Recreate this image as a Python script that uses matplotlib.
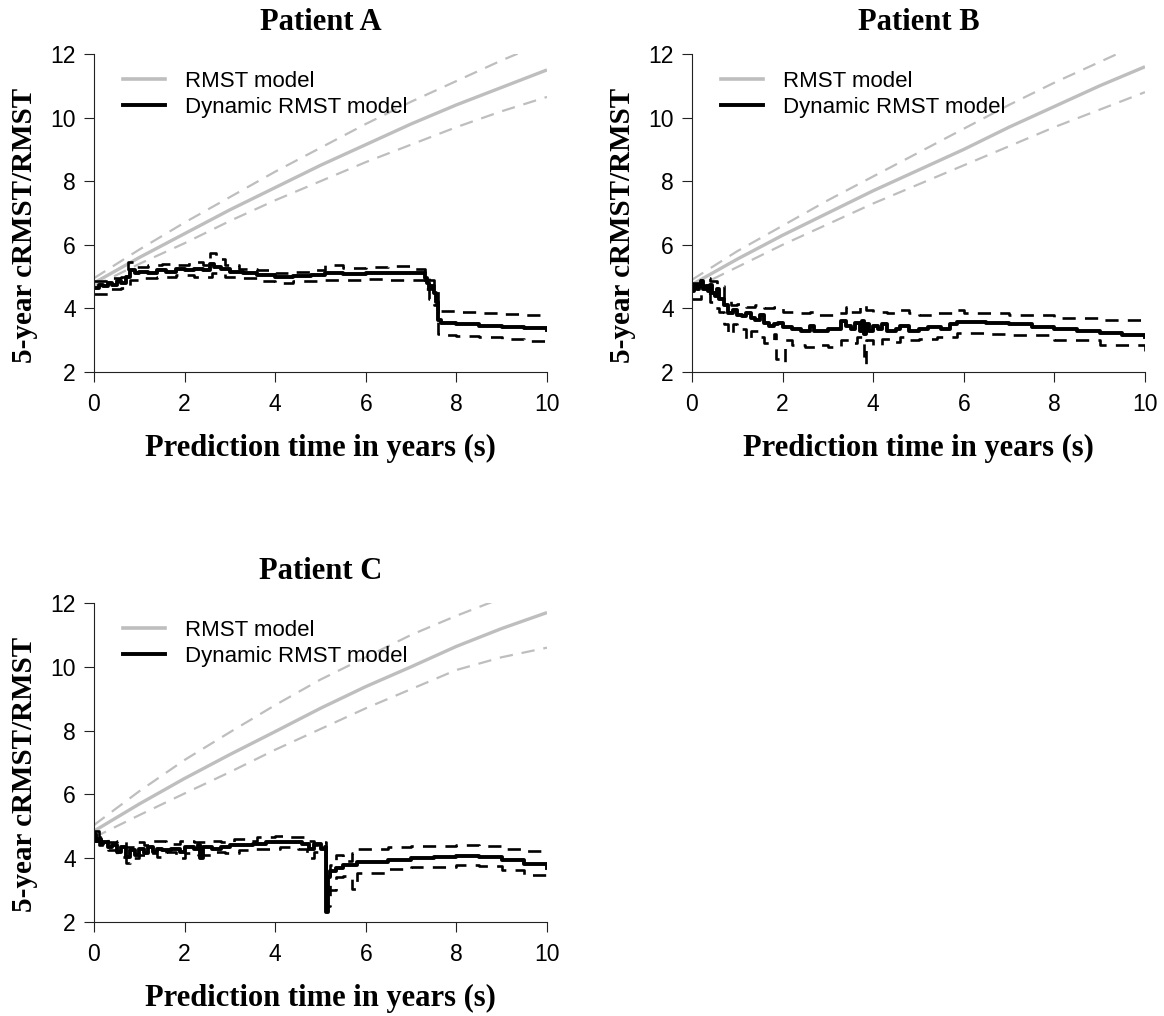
import matplotlib
matplotlib.use("Agg")
import matplotlib.pyplot as plt
from matplotlib.lines import Line2D

# ---------------- data ----------------
# RMST model (smooth), read at integer years
rmst_t = [0, 1, 2, 3, 4, 5, 6, 7, 8, 9, 10]
A_rmst = [4.8, 5.6, 6.35, 7.1, 7.8, 8.5, 9.15, 9.8, 10.4, 10.95, 11.5]
A_rmst_up = [4.95, 5.85, 6.7, 7.5, 8.3, 9.05, 9.8, 10.5, 11.15, 11.8, 12.4]
A_rmst_lo = [4.7, 5.4, 6.05, 6.75, 7.4, 8.0, 8.6, 9.15, 9.7, 10.2, 10.65]
B_rmst = [4.75, 5.55, 6.3, 7.0, 7.7, 8.35, 9.0, 9.7, 10.35, 11.0, 11.6]
B_rmst_up = [4.9, 5.8, 6.6, 7.4, 8.15, 8.9, 9.65, 10.4, 11.1, 11.75, 12.4]
B_rmst_lo = [4.6, 5.3, 6.0, 6.65, 7.3, 7.9, 8.5, 9.1, 9.7, 10.25, 10.8]
C_rmst = [4.85, 5.7, 6.5, 7.25, 7.97, 8.7, 9.38, 10.0, 10.64, 11.2, 11.7]
C_rmst_up = [5.04, 6.1, 7.08, 7.95, 8.8, 9.6, 10.3, 11.0, 11.6, 12.15, 12.6]
C_rmst_lo = [4.65, 5.35, 6.03, 6.7, 7.4, 8.05, 8.7, 9.3, 9.9, 10.3, 10.6]

# Dynamic RMST model (step functions)
A_t = [0, 0.1, 0.2, 0.3, 0.4, 0.5, 0.6, 0.7, 0.8, 0.9, 1.0, 1.2, 1.4, 1.6, 1.8, 2.0,
       2.2, 2.4, 2.55, 2.65, 2.8, 3.0, 3.3, 3.6, 4.0, 4.4, 4.8, 5.1, 5.5, 6.0, 6.5,
       7.0, 7.3, 7.35, 7.4, 7.45, 7.5, 7.55, 7.6, 7.65, 8.0, 8.5, 9.0, 9.5, 10.0]
A_dyn = [4.65, 4.75, 4.7, 4.8, 4.75, 4.85, 4.8, 5.0, 5.2, 5.1, 5.15, 5.1, 5.2, 5.15, 5.25, 5.2,
         5.25, 5.2, 5.4, 5.3, 5.25, 5.15, 5.1, 5.05, 5.0, 5.02, 5.05, 5.1, 5.08, 5.1, 5.12,
         5.1, 4.95, 4.8, 4.6, 4.7, 4.5, 4.2, 3.65, 3.53, 3.5, 3.46, 3.42, 3.37, 3.32]
A_up_t = [0, 0.3, 0.6, 0.75, 0.9, 1.2, 1.5, 1.8, 2.1, 2.4, 2.55, 2.7, 2.9, 3.2, 3.6, 4.0,
          4.4, 4.8, 5.1, 5.5, 6.0, 6.5, 7.0, 7.3, 7.4, 7.5, 7.6, 7.65, 8.0, 8.5, 9.0, 9.5, 10.0]
A_up = [4.85, 4.95, 5.0, 5.45, 5.3, 5.35, 5.4, 5.35, 5.45, 5.35, 5.75, 5.55, 5.35, 5.25, 5.2, 5.1,
        5.15, 5.2, 5.35, 5.28, 5.3, 5.32, 5.25, 5.1, 4.9, 4.7, 4.0, 3.92, 3.88, 3.85, 3.81, 3.78, 3.74]
A_lo_t = [0, 0.3, 0.6, 0.8, 1.0, 1.4, 1.8, 2.2, 2.6, 2.9, 3.3, 3.6, 4.0, 4.4, 4.8, 5.1,
          5.5, 6.0, 6.5, 7.0, 7.3, 7.4, 7.5, 7.6, 7.65, 8.0, 8.5, 9.0, 9.5, 10.0]
A_lo = [4.45, 4.6, 4.65, 4.9, 4.95, 5.0, 5.05, 5.0, 5.1, 5.0, 4.95, 4.85, 4.8, 4.85, 4.85, 4.9,
        4.9, 4.92, 4.9, 4.88, 4.6, 4.3, 4.1, 3.2, 3.15, 3.12, 3.1, 3.05, 2.98, 2.9]

B_t = [0, 0.05, 0.1, 0.15, 0.2, 0.25, 0.3, 0.35, 0.4, 0.45, 0.5, 0.55, 0.6, 0.7, 0.8, 0.9,
       1.0, 1.1, 1.2, 1.3, 1.4, 1.5, 1.6, 1.7, 1.8, 1.9, 2.0, 2.2, 2.4, 2.6, 2.7, 3.0,
       3.3, 3.4, 3.5, 3.6, 3.7, 3.75, 3.8, 3.85, 3.9, 4.0, 4.1, 4.2, 4.3, 4.5, 4.6, 4.8,
       5.0, 5.2, 5.5, 5.7, 5.85, 6.5, 7.0, 7.5, 8.0, 8.5, 9.0, 9.5, 10.0]
B_dyn = [4.55, 4.75, 4.6, 4.7, 4.85, 4.6, 4.7, 4.55, 4.75, 4.5, 4.4, 4.6, 4.3, 4.1, 3.85, 3.95,
         3.8, 3.75, 3.85, 3.7, 3.65, 3.8, 3.55, 3.45, 3.5, 3.55, 3.4, 3.35, 3.3, 3.45, 3.3, 3.35,
         3.6, 3.45, 3.35, 3.55, 3.3, 3.6, 3.2, 3.5, 3.3, 3.45, 3.35, 3.5, 3.3, 3.35, 3.45, 3.3,
         3.35, 3.4, 3.35, 3.5, 3.58, 3.55, 3.5, 3.43, 3.36, 3.28, 3.22, 3.16, 3.1]
B_up_t = [0, 0.2, 0.4, 0.55, 0.7, 0.85, 1.0, 1.2, 1.4, 1.6, 1.8, 2.0, 2.3, 2.6, 2.8, 3.2,
          3.4, 3.5, 3.7, 3.85, 4.0, 4.3, 4.5, 4.8, 5.0, 5.4, 5.85, 6.0, 7.0, 8.0, 9.0, 10.0]
B_up = [4.8, 4.95, 4.85, 4.7, 4.3, 4.1, 4.15, 4.05, 4.1, 4.0, 4.05, 3.9, 3.85, 3.9, 3.8, 3.85,
        4.05, 3.9, 4.1, 3.95, 3.9, 3.85, 3.95, 3.85, 3.8, 3.85, 3.95, 3.85, 3.8, 3.7, 3.62, 3.52]
B_lo_t = [0, 0.2, 0.4, 0.5, 0.6, 0.7, 0.8, 0.9, 1.0, 1.2, 1.3, 1.5, 1.6, 1.8, 1.85, 1.95,
          2.05, 2.2, 2.5, 2.8, 3.0, 3.3, 3.5, 3.65, 3.8, 3.85, 4.0, 4.2, 4.4, 4.6, 4.8, 5.0,
          5.4, 5.85, 6.5, 7.0, 8.0, 9.0, 10.0]
B_lo = [4.3, 4.5, 4.2, 4.0, 3.9, 3.5, 3.2, 3.5, 3.35, 3.0, 3.3, 3.1, 2.9, 3.2, 2.4, 2.3,
        3.0, 2.85, 2.8, 2.85, 2.8, 3.0, 2.9, 3.1, 2.25, 3.0, 2.85, 3.05, 2.95, 3.1, 3.0, 3.05,
        3.1, 3.22, 3.2, 3.15, 3.0, 2.85, 2.67]

C_t = [0, 0.05, 0.1, 0.15, 0.2, 0.3, 0.4, 0.5, 0.6, 0.7, 0.8, 0.9, 1.0, 1.1, 1.2, 1.3,
       1.4, 1.5, 1.7, 1.9, 2.0, 2.2, 2.3, 2.35, 2.4, 2.6, 2.8, 3.0, 3.2, 3.5, 3.8, 4.2,
       4.6, 4.75, 4.85, 5.0, 5.1, 5.12, 5.16, 5.2, 5.35, 5.5, 5.8, 6.5, 7.0, 7.5, 8.0,
       8.5, 9.0, 9.5, 10.0]
C_dyn = [4.75, 4.55, 4.6, 4.45, 4.5, 4.35, 4.4, 4.2, 4.35, 4.05, 4.25, 4.1, 4.3, 4.15, 4.35, 4.2,
         4.3, 4.25, 4.3, 4.2, 4.35, 4.3, 4.4, 4.0, 4.35, 4.3, 4.35, 4.4, 4.42, 4.45, 4.5, 4.5,
         4.45, 4.3, 4.45, 4.3, 4.35, 2.3, 3.4, 3.6, 3.7, 3.8, 3.88, 3.95, 4.0, 4.05, 4.08,
         4.05, 3.95, 3.82, 3.68]
C_up_t = [0, 0.1, 0.3, 0.5, 0.7, 0.9, 1.1, 1.3, 1.6, 1.9, 2.2, 2.5, 2.8, 3.1, 3.4, 3.6,
          4.0, 4.3, 4.7, 4.85, 5.0, 5.12, 5.2, 5.35, 5.5, 5.7, 5.8, 6.5, 7.0, 8.0, 8.5,
          9.0, 9.5, 10.0]
C_up = [4.85, 4.65, 4.5, 4.55, 4.35, 4.5, 4.4, 4.55, 4.45, 4.55, 4.5, 4.55, 4.5, 4.6, 4.55, 4.65,
        4.7, 4.65, 4.55, 4.4, 4.5, 3.0, 3.8, 4.1, 3.9, 4.15, 4.28, 4.35, 4.38, 4.41, 4.38,
        4.3, 4.22, 4.13]
C_lo_t = [0, 0.1, 0.3, 0.5, 0.7, 0.8, 1.0, 1.2, 1.4, 1.6, 1.8, 2.0, 2.3, 2.6, 2.9, 3.2,
          3.5, 3.8, 4.1, 4.5, 4.7, 4.85, 5.0, 5.12, 5.2, 5.35, 5.5, 5.7, 5.8, 6.5, 7.0,
          8.0, 8.5, 9.0, 9.5, 10.0]
C_lo = [4.55, 4.4, 4.25, 4.05, 3.85, 4.0, 4.1, 4.15, 4.05, 4.2, 4.0, 4.15, 4.1, 4.2, 4.15, 4.25,
        4.3, 4.3, 4.35, 4.3, 4.0, 4.2, 4.1, 2.5, 3.0, 3.4, 3.45, 3.05, 3.54, 3.65, 3.72,
        3.78, 3.74, 3.62, 3.46, 3.26]

titles = ["Patient A", "Patient B", "Patient C"]
xticks = [0, 2, 4, 6, 8, 10]
yticks = [2, 4, 6, 8, 10, 12]
xlabel = "Prediction time in years (s)"
ylabel = "5-year cRMST/RMST"
legend_labels = ["RMST model", "Dynamic RMST model"]

panels = [
    (A_rmst, A_rmst_up, A_rmst_lo, A_t, A_dyn, A_up_t, A_up, A_lo_t, A_lo),
    (B_rmst, B_rmst_up, B_rmst_lo, B_t, B_dyn, B_up_t, B_up, B_lo_t, B_lo),
    (C_rmst, C_rmst_up, C_rmst_lo, C_t, C_dyn, C_up_t, C_up, C_lo_t, C_lo),
]

# ---------------- figure ----------------
W, H = 1164, 1016
fig = plt.figure(figsize=(W / 100, H / 100), dpi=100)
boxes = [(94, 54, 547, 372), (692, 54, 1145, 372), (94, 603, 547, 922)]

GRAY = "#BEBEBE"
serif = ["Liberation Serif", "DejaVu Serif"]
sans = ["Liberation Sans", "DejaVu Sans"]

for (l, t, r, b), title, pdata in zip(boxes, titles, panels):
    ax = fig.add_axes([l / W, 1 - b / H, (r - l) / W, (b - t) / H])
    rm, rmu, rml, dt, dv, ut, uv, lt, lv = pdata
    ax.plot(rmst_t, rmu, color=GRAY, lw=1.6, dashes=(6, 4))
    ax.plot(rmst_t, rml, color=GRAY, lw=1.6, dashes=(6, 4))
    ax.plot(rmst_t, rm, color=GRAY, lw=2.4, solid_capstyle="butt")
    ax.plot(ut, uv, color="black", lw=1.9, dashes=(5, 3.5), drawstyle="steps-post")
    ax.plot(lt, lv, color="black", lw=1.9, dashes=(5, 3.5), drawstyle="steps-post")
    ax.plot(dt, dv, color="black", lw=2.8, drawstyle="steps-post")

    ax.set_xlim(0, 10)
    ax.set_ylim(2, 12)
    ax.set_xticks(xticks)
    ax.set_yticks(yticks)
    for s in ("top", "right"):
        ax.spines[s].set_visible(False)
    for s in ("left", "bottom"):
        ax.spines[s].set_linewidth(0.8)
        ax.spines[s].set_color("#222222")
    ax.tick_params(direction="out", length=7, width=0.8, color="#222222",
                   labelsize=16.5, pad=6)
    ax.tick_params(axis="x", pad=8)
    for lab in ax.get_xticklabels() + ax.get_yticklabels():
        lab.set_family(sans)

    ax.set_title(title, fontsize=22, fontweight="bold", family=serif, pad=17)
    ax.set_xlabel(xlabel, fontsize=22, fontweight="bold", family=serif, labelpad=13)
    ax.set_ylabel(ylabel, fontsize=21, fontweight="bold", family=serif)
    ax.yaxis.set_label_coords(-0.124, 0.462)

    handles = [Line2D([], [], color=GRAY, lw=2.6),
               Line2D([], [], color="black", lw=2.8)]
    ax.legend(handles, legend_labels, loc="upper left", bbox_to_anchor=(0.064, 0.947),
              frameon=False, prop={"family": sans, "size": 16},
              handlelength=1.9, handletextpad=0.88, labelspacing=0.22,
              borderpad=0, borderaxespad=0)

fig.savefig("out.png", dpi=100)
